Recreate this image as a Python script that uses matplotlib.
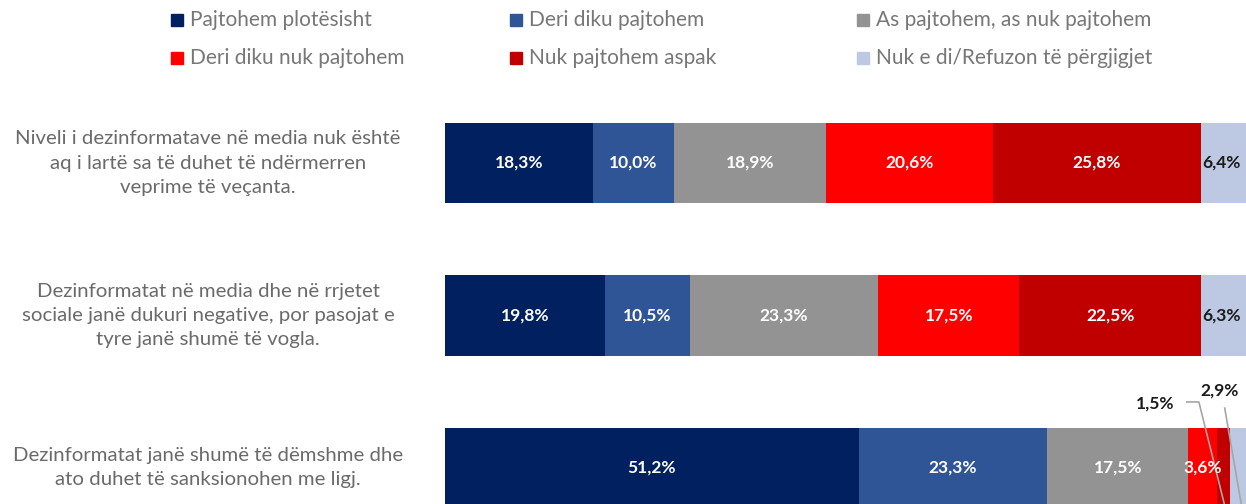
import matplotlib.pyplot as plt
import numpy as np
from matplotlib.patches import Rectangle

plt.rcParams['font.family'] = ['Lato', 'DejaVu Sans']

statements = [
    "Niveli i dezinformatave në media nuk është\naq i lartë sa të duhet të ndërmerren\nveprime të veçanta.",
    "Dezinformatat në media dhe në rrjetet\nsociale janë dukuri negative, por pasojat e\ntyre janë shumë të vogla.",
    "Dezinformatat janë shumë të dëmshme dhe\nato duhet të sanksionohen me ligj.",
]
categories = [
    "Pajtohem plotësisht",
    "Deri diku pajtohem",
    "As pajtohem, as nuk pajtohem",
    "Deri diku nuk pajtohem",
    "Nuk pajtohem aspak",
    "Nuk e di/Refuzon të përgjigjet",
]
values = np.array([
    [18.3, 10.0, 18.9, 20.6, 25.8, 6.4],
    [19.8, 10.5, 23.3, 17.5, 22.5, 6.3],
    [51.2, 23.3, 17.5, 3.6, 1.5, 2.9],
])
colors = ["#002060", "#2F5597", "#939393", "#FF0000", "#C00000", "#BDC8E3"]
label_colors = ["white", "white", "white", "white", "white", "#1a1a1a"]

W, H = 1246, 504
fig = plt.figure(figsize=(W / 100, H / 100), dpi=100)

# bar area runs a little past the right edge of the picture
ax = fig.add_axes([445 / W, 0, 808 / W, 1])
ax.set_xlim(0, 100)
ax.set_ylim((H - 163) / 152.5, -163 / 152.5)
ax.axis("off")

lab_fs = 12.5
bar_h = 0.525
for i, row in enumerate(values):
    left = 0.0
    for j, v in enumerate(row):
        ax.barh(i, v, left=left, height=bar_h, color=colors[j], linewidth=0)
        txt = f"{v:.1f}%".replace(".", ",")
        cx = left + v / 2
        if i == 2 and j >= 4:
            pass  # labelled with leader lines below
        elif j == 5:
            ax.text(left + 0.15, i, txt, ha="left", va="center", fontsize=lab_fs,
                    fontweight="bold", color=label_colors[j], clip_on=False)
        else:
            ax.text(cx, i, txt, ha="center", va="center", fontsize=lab_fs,
                    fontweight="bold", color=label_colors[j])
        left += v

# leader lines for the small segments of the last bar
cum = np.cumsum(values[2])
c15 = cum[4] - values[2][4] / 2
c29 = cum[5] - values[2][5] / 2
ax.text(87.9, 1.58, "1,5%", ha="center", va="center", fontsize=lab_fs,
        fontweight="bold", color="#1a1a1a")
ax.plot([91.8, 93.3, c15 + 0.4], [1.567, 1.567, 2.3], color="#a6a6a6", lw=1.2)
ax.text(95.9, 1.49, "2,9%", ha="center", va="center", fontsize=lab_fs,
        fontweight="bold", color="#1a1a1a", clip_on=False)
ax.plot([96.5, c29 + 0.2], [1.607, 2.3], color="#a6a6a6", lw=1.2)

# statement labels
for i, s in enumerate(statements):
    ax.text((208 - 445) / 8.08, i, s, ha="center", va="center",
            fontsize=14.7, color="#6a6a6a", linespacing=1.5, clip_on=False)

# legend, three columns by two rows
leg_x = [177, 516, 863]
leg_y = [20, 58]
for k, name in enumerate(categories):
    col, r = k % 3, k // 3
    x0, y0 = leg_x[col], leg_y[r]
    fig.patches.append(Rectangle(((x0 - 6) / W, 1 - (y0 + 6) / H), 12 / W, 12 / H,
                                 transform=fig.transFigure, color=colors[k]))
    fig.text((x0 + 13) / W, 1 - y0 / H, name, ha="left", va="center",
             fontsize=15, color="#777777")

fig.savefig("out.png", dpi=100)
